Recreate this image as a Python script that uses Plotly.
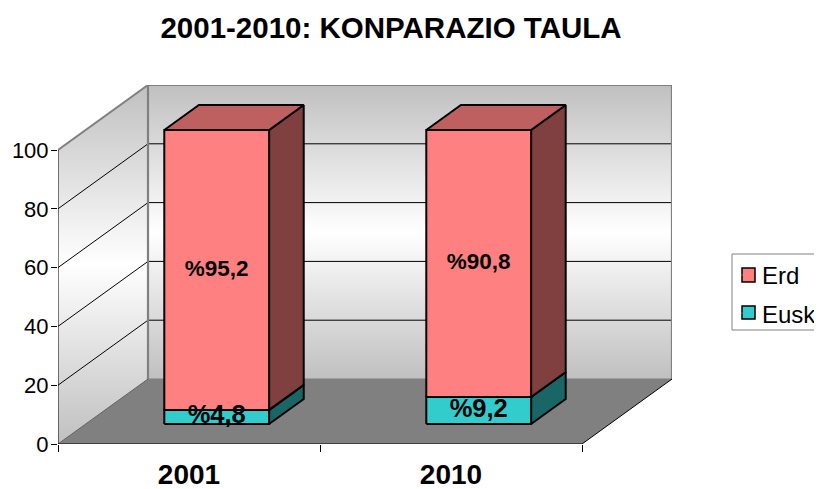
import plotly.graph_objects as go

# ---- data ----
categories = ["2001", "2010"]
erd = [95.2, 90.8]
eusk = [4.8, 9.2]
y_ticks = [0, 20, 40, 60, 80, 100]
title = "2001-2010: KONPARAZIO TAULA"
legend_names = ["Erd", "Eusk"]

# ---- oblique projection (category units / value units) ----
PAGE = 8                           # default page margin around the figure
W, H = 822, 489
L, R, T, B = 58 - PAGE, 672 - PAGE, 85 - PAGE, 444 - PAGE  # plot-area box
PX_CAT = 262.0                     # px per category
PX_VAL = 2.94                      # px per value unit
DX = 90 / PX_CAT                   # full depth shift in x
DY = 65 / PX_VAL                   # full depth shift in y
D0, D1 = 0.3077, 0.6923            # bar depth extent
BAR = 0.4                          # bar width in category units
FONT = "Liberation Sans"
ERD_C = "#FF8080"
EUSK_C = "#33CCCC"


def P(x, v, d=0.0):
    return x + d * DX, v + d * DY


def poly(points, fill=None, line="black", lw=1.0, closed=True, grad=None):
    pts = [P(*p) for p in points]
    if closed:
        pts.append(pts[0])
    kw = {}
    if fill or grad:
        kw["fill"] = "toself"
    if fill:
        kw["fillcolor"] = fill
    if grad:
        kw["fillgradient"] = grad
    return go.Scatter(
        x=[p[0] for p in pts], y=[p[1] for p in pts], mode="lines",
        line=dict(color=line, width=lw), showlegend=False, hoverinfo="skip",
        cliponaxis=False, **kw)


GRAD = dict(type="vertical", colorscale=[[0, "#c0c0c0"], [0.5, "#ffffff"], [1, "#c0c0c0"]])
N = len(categories)
TOP = max(y_ticks)

fig = go.Figure()
# side wall, back wall, floor
fig.add_trace(poly([(0, 0, 0), (0, TOP, 0), (0, TOP, 1), (0, 0, 1)], grad=GRAD, line="rgba(0,0,0,0)", lw=0))
fig.add_trace(poly([(0, 0, 1), (0, TOP, 1), (N, TOP, 1), (N, 0, 1)], grad=GRAD, line="rgba(0,0,0,0)", lw=0))
fig.add_trace(poly([(0, 0, 0), (0, 0, 1), (N, 0, 1), (N, 0, 0)], fill="#808080", line="rgba(0,0,0,0)", lw=0))
# gridlines
for v in y_ticks[1:-1]:
    fig.add_trace(poly([(0, v, 0), (0, v, 1), (N, v, 1)], closed=False, line="#000000", lw=1))
# wall borders
fig.add_trace(poly([(0, 0, 1), (0, TOP, 1), (N, TOP, 1), (N, 0, 1)], closed=False, line="#808080", lw=2.2))
fig.add_trace(poly([(0, TOP, 0), (0, TOP, 1)], closed=False, line="#808080", lw=2))
fig.add_trace(poly([(0, 0, 1), (0, 0, 0)], closed=False, line="#606060", lw=1))
fig.add_trace(poly([(0, 0, 1), (N, 0, 1)], closed=False, line="#808080", lw=1))
fig.add_trace(poly([(N, 0, 0), (N, 0, 1)], closed=False, line="#000000", lw=1))
# axis lines
fig.add_trace(poly([(0, 0, 0), (0, TOP, 0)], closed=False, line="#000000", lw=1))
fig.add_trace(poly([(0, 0, 0), (N, 0, 0)], closed=False, line="#000000", lw=1))


def box(xc, v0, v1, front, top, side):
    x0, x1 = xc - BAR / 2, xc + BAR / 2
    fig.add_trace(poly([(x1, v0, D0), (x1, v0, D1), (x1, v1, D1), (x1, v1, D0)], fill=side, lw=2))
    fig.add_trace(poly([(x0, v1, D0), (x0, v1, D1), (x1, v1, D1), (x1, v1, D0)], fill=top, lw=2))
    fig.add_trace(poly([(x0, v0, D0), (x1, v0, D0), (x1, v1, D0), (x0, v1, D0)], fill=front, lw=2))


for i in range(N):
    xc = i + 0.5
    box(xc, 0, eusk[i], EUSK_C, "#269999", "#1A6666")
    box(xc, eusk[i], eusk[i] + erd[i], ERD_C, "#BF6060", "#804040")


def fmt(v):
    return "%" + str(v).replace(".", ",")


# value labels in the middle of each segment, on the front face
tx, ty, tt, ts = [], [], [], []
for i in range(N):
    for mid, v in ((eusk[i] / 2, eusk[i]), (eusk[i] + erd[i] / 2, erd[i])):
        x, y = P(i + 0.5, mid, D0)
        tx.append(x)
        ty.append(y)
        tt.append(fmt(v))
        ts.append(25.5 if v < 10 else 22.5)
fig.add_trace(go.Scatter(x=tx, y=ty, text=tt, mode="text", showlegend=False, hoverinfo="skip",
                         cliponaxis=False,
                         textfont=dict(family=FONT, size=ts, color="black", weight="bold")))

# legend entries (text from the legend; swatches and frame drawn as shapes at the reference's spots)
for name in legend_names:
    fig.add_trace(go.Scatter(x=[None], y=[None], mode="markers", name=name, legendgroup=name, hoverinfo="skip",
                             marker=dict(symbol="square", size=1, opacity=0)))

# carrier for the tick-mark axis
fig.add_trace(go.Scatter(x=[0], y=[0], xaxis="x2", mode="markers", marker=dict(opacity=0),
                         showlegend=False, hoverinfo="skip"))


def px(x):
    return (x - 58) / (R - L)


def py(y):
    return 1 - (y - 85) / (B - T)


def rect(x0, y0, x1, y1, fill, line, lw):
    return dict(type="rect", xref="paper", yref="paper", x0=px(x0), x1=px(x1), y0=py(y0), y1=py(y1),
                fillcolor=fill, line=dict(color=line, width=lw), layer="below")


shapes = [
    rect(732, 254, 840, 330, "white", "#808080", 1),
    rect(742, 268, 755, 282, ERD_C, "black", 1.5),
    rect(742, 306, 755, 319, EUSK_C, "black", 1.5),
]

xmax = (R - L) / PX_CAT
ymax = (B - T) / PX_VAL
fig.update_layout(
    width=W, height=H, paper_bgcolor="white", plot_bgcolor="rgba(0,0,0,0)",
    margin=dict(l=L, r=W - R, t=T, b=H - B, autoexpand=False),
    font=dict(family=FONT, color="black"),
    title=dict(text=f"<b>{title}</b>", x=(391 - PAGE) / W, xanchor="center", y=1 - (28 - PAGE) / H, yanchor="middle",
               font=dict(family=FONT, size=29.5, color="black")),
    xaxis=dict(range=[0, xmax], tickmode="array", tickvals=[i + 0.5 for i in range(N)], ticktext=categories,
               ticks="", showgrid=False, zeroline=False, showline=False, ticklabelstandoff=11,
               tickfont=dict(family=FONT, size=28, color="black", weight="bold")),
    xaxis2=dict(range=[0, xmax], overlaying="x", side="bottom", anchor="y", tickmode="array",
                tickvals=list(range(N + 1)), ticks="outside", ticklen=7, tickcolor="black", tickwidth=1,
                showticklabels=False, showgrid=False, zeroline=False, showline=False),
    yaxis=dict(range=[0, ymax], tickmode="array", tickvals=y_ticks, ticks="outside", ticklen=6,
               tickcolor="black", tickwidth=1, showgrid=False, zeroline=False, showline=False,
               ticklabelstandoff=-2, tickfont=dict(family=FONT, size=22, color="black")),
    legend=dict(x=px(722), xanchor="left", y=py(253), yanchor="top", bgcolor="rgba(0,0,0,0)",
                borderwidth=0, tracegroupgap=4, font=dict(family=FONT, size=24, color="black"),
                itemclick=False, itemdoubleclick=False),
    showlegend=True,
    shapes=shapes,
)
fig.write_html("out.html")
